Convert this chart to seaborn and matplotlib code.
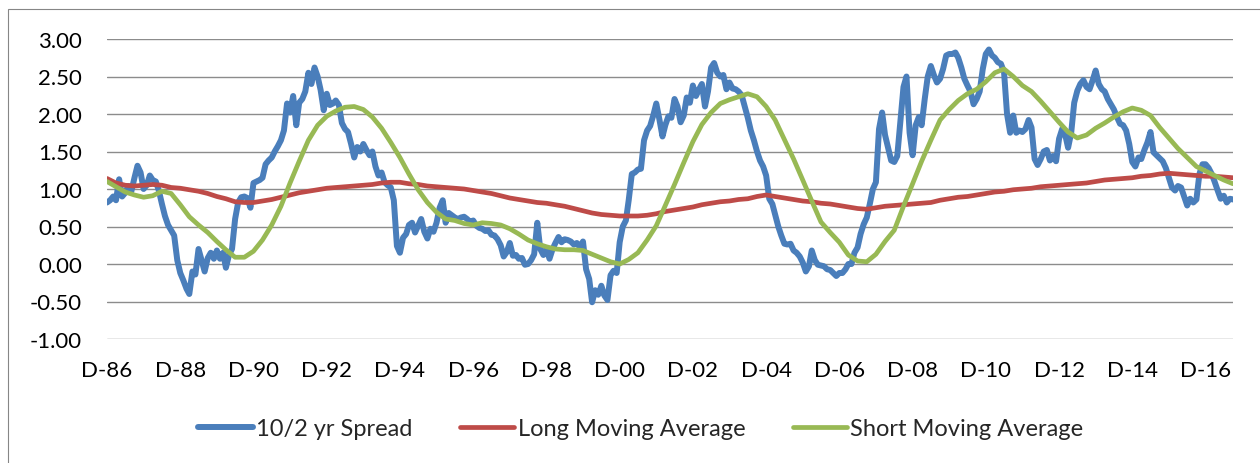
import pandas as pd
import matplotlib
matplotlib.use("Agg")
import matplotlib.pyplot as plt
from matplotlib.patches import Rectangle
import seaborn as sns

# 10/2 yr spread, monthly from Dec 1986
spread = [
    0.82, 0.85, 0.90, 0.85, 1.13, 0.90, 0.95, 1.04, 0.97, 1.15,
    1.31, 1.22, 1.00, 1.05, 1.18, 1.12, 1.10, 0.98, 0.80, 0.64,
    0.52, 0.45, 0.38, 0.05, -0.12, -0.22, -0.33, -0.40, -0.10, -0.14,
    0.20, 0.05, -0.10, 0.08, 0.15, 0.07, 0.18, 0.07, 0.15, -0.05,
    0.12, 0.20, 0.60, 0.82, 0.89, 0.90, 0.88, 0.75, 1.08, 1.10,
    1.12, 1.15, 1.33, 1.38, 1.42, 1.50, 1.57, 1.65, 1.78, 2.14,
    2.02, 2.24, 1.85, 2.15, 2.20, 2.30, 2.55, 2.40, 2.62, 2.50,
    2.32, 2.05, 2.27, 2.12, 2.14, 2.18, 2.12, 1.88, 1.80, 1.76,
    1.60, 1.42, 1.56, 1.50, 1.60, 1.52, 1.45, 1.50, 1.30, 1.18,
    1.22, 1.09, 1.05, 1.02, 0.85, 0.24, 0.15, 0.35, 0.40, 0.52,
    0.55, 0.42, 0.51, 0.60, 0.43, 0.34, 0.47, 0.43, 0.55, 0.75,
    0.85, 0.55, 0.68, 0.65, 0.62, 0.60, 0.62, 0.63, 0.60, 0.56,
    0.58, 0.51, 0.48, 0.47, 0.44, 0.45, 0.39, 0.38, 0.33, 0.25,
    0.10, 0.16, 0.28, 0.11, 0.12, 0.07, 0.08, -0.01, 0.00, 0.05,
    0.13, 0.55, 0.20, 0.12, 0.20, 0.07, 0.20, 0.28, 0.36, 0.29,
    0.33, 0.32, 0.30, 0.26, 0.28, 0.22, 0.30, -0.07, -0.20, -0.51,
    -0.35, -0.41, -0.29, -0.42, -0.48, -0.15, -0.09, -0.12, 0.29, 0.50,
    0.58, 0.85, 1.20, 1.22, 1.26, 1.27, 1.65, 1.78, 1.84, 1.98,
    2.14, 1.93, 1.70, 1.85, 1.97, 1.95, 2.20, 2.10, 1.89, 1.98,
    2.22, 2.15, 2.38, 2.24, 2.33, 2.40, 2.10, 2.30, 2.62, 2.68,
    2.55, 2.50, 2.52, 2.33, 2.42, 2.34, 2.33, 2.30, 2.25, 2.10,
    1.95, 1.78, 1.65, 1.50, 1.38, 1.30, 1.18, 0.87, 0.80, 0.66,
    0.50, 0.38, 0.27, 0.26, 0.27, 0.18, 0.15, 0.10, 0.02, -0.10,
    -0.03, 0.18, 0.05, -0.01, -0.02, -0.03, -0.07, -0.08, -0.12, -0.16,
    -0.12, -0.12, -0.07, 0.00, 0.00, 0.15, 0.22, 0.40, 0.53, 0.62,
    0.80, 1.00, 1.09, 1.80, 2.02, 1.72, 1.55, 1.38, 1.36, 1.44,
    1.90, 2.36, 2.50, 1.75, 1.45, 1.85, 1.96, 1.85, 2.20, 2.50,
    2.64, 2.52, 2.42, 2.47, 2.60, 2.78, 2.80, 2.80, 2.82, 2.75,
    2.62, 2.47, 2.38, 2.30, 2.13, 2.20, 2.30, 2.60, 2.80, 2.86,
    2.78, 2.75, 2.69, 2.67, 2.56, 2.00, 1.75, 1.98, 1.75, 1.78,
    1.76, 1.80, 1.92, 1.82, 1.40, 1.32, 1.40, 1.50, 1.52, 1.38,
    1.44, 1.37, 1.67, 1.80, 1.72, 1.55, 1.75, 2.15, 2.31, 2.40,
    2.45, 2.36, 2.33, 2.45, 2.58, 2.40, 2.33, 2.30, 2.20, 2.13,
    2.06, 1.96, 1.87, 1.85, 1.78, 1.60, 1.36, 1.30, 1.42, 1.40,
    1.52, 1.62, 1.76, 1.49, 1.45, 1.41, 1.37, 1.28, 1.15, 1.02,
    0.98, 1.04, 1.02, 0.90, 0.78, 0.87, 0.82, 0.86, 1.20, 1.33,
    1.33, 1.28, 1.20, 1.10, 0.98, 0.87, 0.91, 0.82, 0.87, 0.86,
]

# moving averages, quarterly from Dec 1986
long_ma = [
    1.14, 1.08, 1.05, 1.04, 1.05, 1.06, 1.05, 1.02, 1.01, 0.99,
    0.97, 0.94, 0.90, 0.87, 0.83, 0.82, 0.82, 0.84, 0.86, 0.89,
    0.92, 0.95, 0.97, 0.99, 1.01, 1.02, 1.03, 1.04, 1.05, 1.06,
    1.08, 1.09, 1.09, 1.07, 1.06, 1.04, 1.03, 1.02, 1.01, 1.00,
    0.98, 0.96, 0.94, 0.91, 0.88, 0.86, 0.84, 0.82, 0.81, 0.79,
    0.77, 0.74, 0.71, 0.68, 0.66, 0.65, 0.64, 0.64, 0.64, 0.65,
    0.67, 0.70, 0.72, 0.74, 0.76, 0.79, 0.81, 0.83, 0.84, 0.86,
    0.87, 0.90, 0.92, 0.90, 0.88, 0.86, 0.84, 0.83, 0.81, 0.80,
    0.78, 0.76, 0.74, 0.73, 0.75, 0.77, 0.78, 0.79, 0.80, 0.81,
    0.82, 0.85, 0.87, 0.89, 0.90, 0.92, 0.94, 0.96, 0.97, 0.99,
    1.00, 1.01, 1.03, 1.04, 1.05, 1.06, 1.07, 1.08, 1.10, 1.12,
    1.13, 1.14, 1.15, 1.17, 1.18, 1.20, 1.21, 1.20, 1.19, 1.18,
    1.17, 1.17, 1.16, 1.15,
]

short_ma = [
    1.10, 1.03, 0.96, 0.92, 0.89, 0.91, 0.97, 0.94, 0.79, 0.63,
    0.52, 0.42, 0.30, 0.19, 0.09, 0.09, 0.17, 0.32, 0.52, 0.77,
    1.08, 1.37, 1.65, 1.85, 1.97, 2.04, 2.09, 2.10, 2.06, 1.96,
    1.81, 1.62, 1.42, 1.20, 0.99, 0.82, 0.69, 0.60, 0.58, 0.54,
    0.52, 0.55, 0.54, 0.52, 0.47, 0.40, 0.32, 0.27, 0.23, 0.20,
    0.19, 0.19, 0.18, 0.13, 0.08, 0.03, 0.00, 0.06, 0.15, 0.32,
    0.51, 0.78, 1.06, 1.35, 1.63, 1.86, 2.02, 2.14, 2.19, 2.23,
    2.27, 2.23, 2.10, 1.92, 1.66, 1.40, 1.12, 0.84, 0.56, 0.42,
    0.29, 0.12, 0.04, 0.03, 0.13, 0.30, 0.45, 0.77, 1.07, 1.37,
    1.65, 1.92, 2.06, 2.18, 2.27, 2.33, 2.43, 2.55, 2.60, 2.50,
    2.38, 2.30, 2.17, 2.03, 1.89, 1.76, 1.68, 1.72, 1.81, 1.88,
    1.96, 2.03, 2.08, 2.05, 1.98, 1.82, 1.68, 1.54, 1.42, 1.30,
    1.24, 1.18, 1.12, 1.07,
]

tick_years = list(range(1986, 2017, 2))
tick_labels = ["D-%02d" % (y % 100) for y in tick_years]
y_ticks = [-1.0, -0.5, 0.0, 0.5, 1.0, 1.5, 2.0, 2.5, 3.0]
y_labels = ["%.2f" % v for v in y_ticks]

monthly = pd.DataFrame({
    "date": pd.date_range("1986-12-01", periods=len(spread), freq="MS"),
    "spread": spread,
})
quarterly = pd.DataFrame({
    "date": pd.date_range("1986-12-01", periods=len(long_ma), freq="3MS"),
    "long": long_ma,
    "short": short_ma,
})

sns.set_theme(style="white")
plt.rcParams["font.family"] = ["Lato", "DejaVu Sans"]

fig = plt.figure(figsize=(12.6, 4.64), dpi=100)
ax = fig.add_axes([107 / 1260, 1 - 340 / 464, 1126 / 1260, 300 / 464])

sns.lineplot(data=monthly, x="date", y="spread", ax=ax, color="#4A7EBB",
             linewidth=4.3, label="10/2 yr Spread")
sns.lineplot(data=quarterly, x="date", y="long", ax=ax, color="#BE4B48",
             linewidth=3.4, label="Long Moving Average")
sns.lineplot(data=quarterly, x="date", y="short", ax=ax, color="#98B954",
             linewidth=3.4, label="Short Moving Average")

ax.set_xlim(pd.Timestamp("1986-12-01"), pd.Timestamp("2017-09-01"))
ax.set_ylim(-1.0, 3.0)
ax.set_yticks(y_ticks)
ax.set_yticklabels(y_labels)
ax.set_xticks([pd.Timestamp(f"{y}-12-01") for y in tick_years])
ax.set_xticklabels(tick_labels)
ax.tick_params(axis="y", length=0, pad=18, labelsize=16, colors="black")
ax.tick_params(axis="x", length=0, pad=15, labelsize=16, colors="black")
ax.set_xlabel("")
ax.set_ylabel("")

ax.grid(axis="y", color="#8C8C8C", linewidth=1.0)
ax.grid(axis="x", visible=False)
for side in ax.spines.values():
    side.set_visible(False)

ax.legend(loc="center", bbox_to_anchor=(641 / 1260, 1 - 430 / 464),
          bbox_transform=fig.transFigure, ncol=3, frameon=False,
          fontsize=17, handlelength=2.3, handletextpad=0.15,
          columnspacing=2.0)

# chart area border
fig.add_artist(Rectangle((8 / 1260, -0.05), 1.1, 1 - 10 / 464 + 0.05,
                         transform=fig.transFigure, fill=False,
                         edgecolor="#868686", linewidth=0.8))

fig.savefig("out.png", dpi=100)
